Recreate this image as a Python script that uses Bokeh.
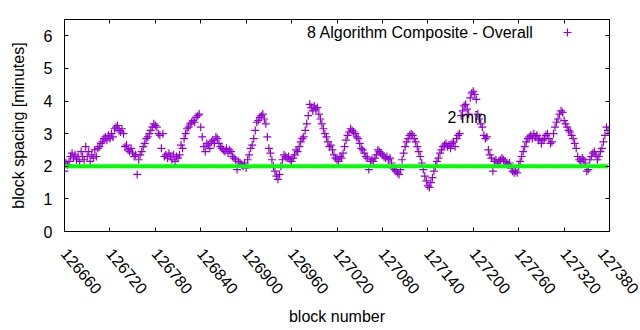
import math
from bokeh.plotting import figure
from bokeh.models import (Range1d, LinearAxis, FixedTicker, Label, Legend,
                          LegendItem, ColumnDataSource, BasicTickFormatter,
                          CustomJSTickFormatter)
from bokeh.embed import file_html
from bokeh.resources import INLINE

# ---------------- data ----------------
blocks = list(range(126660, 127380, 2))
spacing = [
    1.85, 2.10, 2.05, 2.15, 2.30, 2.40, 2.25, 2.35, 2.20, 2.30, 2.15, 2.45, 2.30, 2.20, 2.60, 2.30, 2.45, 2.15, 2.35, 2.25,
    2.50, 2.30, 2.55, 2.60, 2.70, 2.75, 2.85, 2.90, 2.80, 2.95, 2.85, 3.00, 2.90, 3.15, 3.20, 3.25, 3.10, 3.05, 3.15, 3.00,
    2.60, 2.65, 2.50, 2.45, 2.55, 2.40, 2.30, 2.35, 1.75, 2.20, 2.35, 2.45, 2.60, 2.70, 2.85, 2.90, 3.00, 3.10, 3.20, 3.30,
    3.25, 3.20, 3.00, 2.95, 2.55, 3.00, 2.30, 2.35, 2.25, 2.40, 2.30, 2.20, 2.35, 2.15, 2.30, 2.25, 2.35, 2.65, 2.55, 2.85,
    3.00, 3.15, 3.20, 3.30, 3.35, 3.40, 3.35, 3.50, 3.55, 3.60, 3.20, 2.90, 2.60, 2.45, 2.70, 2.65, 2.55, 2.75, 2.80, 2.70,
    2.90, 2.85, 2.70, 2.60, 2.55, 2.50, 2.45, 2.55, 2.40, 2.50, 2.45, 2.30, 2.25, 2.20, 1.90, 2.15, 2.10, 2.05, 2.00, 2.10,
    1.95, 2.20, 2.35, 2.55, 2.65, 2.85, 3.10, 3.35, 3.40, 3.50, 3.55, 3.60, 3.45, 3.30, 2.90, 2.55, 2.40, 2.20, 2.00, 1.85,
    1.70, 1.60, 1.75, 2.00, 2.20, 2.35, 2.30, 2.25, 2.30, 2.20, 2.15, 2.25, 2.35, 2.50, 2.45, 2.60, 2.75, 2.85, 2.90, 3.10,
    3.30, 3.55, 3.90, 3.80, 3.70, 3.85, 3.75, 3.80, 3.60, 3.45, 3.30, 3.15, 3.00, 2.90, 2.75, 2.60, 2.65, 2.50, 2.35, 2.25,
    2.20, 2.15, 2.30, 2.25, 2.40, 2.60, 2.80, 2.95, 3.05, 3.15, 3.10, 3.05, 3.00, 2.90, 2.85, 2.70, 2.55, 2.50, 2.40, 2.30,
    2.25, 1.90, 2.15, 2.20, 2.15, 2.25, 2.35, 2.50, 2.45, 2.40, 2.35, 2.30, 2.25, 2.30, 2.20, 2.25, 2.10, 1.95, 1.90, 1.85,
    1.80, 1.75, 1.90, 2.20, 2.40, 2.60, 2.75, 2.85, 2.95, 3.00, 2.95, 2.85, 2.75, 2.60, 2.45, 2.30, 2.10, 1.90, 1.70, 1.55,
    1.40, 1.35, 1.50, 1.65, 1.85, 2.00, 2.15, 2.25, 2.40, 2.50, 2.60, 2.65, 2.70, 2.60, 2.65, 2.55, 2.70, 2.75, 2.60, 2.85,
    2.95, 3.00, 3.55, 3.70, 3.85, 3.90, 3.75, 3.60, 4.10, 4.25, 4.30, 4.20, 4.05, 3.60, 3.45, 3.30, 3.20, 2.95, 2.85, 2.90,
    2.50, 2.35, 2.25, 1.85, 2.15, 2.20, 2.10, 2.15, 2.20, 2.25, 2.20, 2.15, 2.10, 2.05, 2.10, 1.95, 1.85, 1.80, 1.85, 1.80,
    2.00, 2.15, 2.30, 2.45, 2.60, 2.75, 2.85, 2.90, 2.95, 2.85, 3.00, 2.90, 2.95, 2.80, 2.85, 2.70, 2.80, 2.85, 2.95, 3.00,
    2.85, 2.70, 2.75, 3.00, 3.20, 3.35, 3.45, 3.60, 3.70, 3.65, 3.40, 3.30, 3.20, 3.10, 3.05, 2.95, 2.85, 2.70, 2.55, 2.30,
    2.20, 2.15, 2.25, 2.20, 2.10, 1.85, 1.90, 2.20, 2.30, 2.40, 2.45, 2.35, 2.20, 2.30, 2.45, 2.55, 2.75, 2.95, 3.20, 3.10,
]
x_ticks = [126660, 126720, 126780, 126840, 126900, 126960, 127020,
           127080, 127140, 127200, 127260, 127320, 127380]
y_ticks = [0, 1, 2, 3, 4, 5, 6]
target_minutes = 2
series_name = "8 Algorithm Composite - Overall"
target_label = "2 min"

PURPLE = "#9400D3"
GREEN = "#00FF00"
FONT = "Liberation Sans"
FS = "16px"

p = figure(width=640, height=330, output_backend="svg", toolbar_location=None,
           x_range=Range1d(126660, 127380), y_range=Range1d(0, 6.5),
           min_border_left=64, min_border_right=31, min_border_top=19,
           min_border_bottom=99)
p.grid.visible = False
p.outline_line_color = "black"
p.outline_line_width = 1
p.background_fill_color = "white"
p.border_fill_color = "white"

src = ColumnDataSource(dict(blocks=blocks, spacing=spacing))
r = p.scatter(x="blocks", y="spacing", source=src, marker="cross", size=8,
              line_color=PURPLE, line_width=1.2)

p.line(x=[blocks[0], blocks[-1]], y=[target_minutes, target_minutes],
       line_color=GREEN, line_width=4)

def style_axis(ax, labels=True):
    ax.major_tick_in = 4
    ax.major_tick_out = 0
    ax.minor_tick_line_color = None
    ax.axis_line_color = "black"
    ax.major_tick_line_color = "black"
    ax.major_label_text_font = FONT
    ax.major_label_text_font_size = FS
    ax.major_label_text_color = "black"
    ax.axis_label_text_font = FONT
    ax.axis_label_text_font_size = FS
    ax.axis_label_text_font_style = "normal"
    ax.axis_label_text_color = "black"
    if not labels:
        ax.formatter = CustomJSTickFormatter(code="return ''")
        ax.major_label_standoff = 0

p.xaxis.ticker = FixedTicker(ticks=x_ticks)
p.yaxis.ticker = FixedTicker(ticks=y_ticks)
style_axis(p.xaxis[0])
style_axis(p.yaxis[0])
p.xaxis.formatter = BasicTickFormatter(use_scientific=False)
p.xaxis.axis_label = "block number"
p.yaxis.axis_label = "block spacing [minutes]"
p.xaxis.major_label_orientation = -math.radians(50)
p.xaxis.major_label_standoff = 19
p.yaxis.major_label_standoff = 12
p.yaxis.axis_label_standoff = 14
p.xaxis.axis_label_standoff = 6

top = LinearAxis(ticker=FixedTicker(ticks=x_ticks))
style_axis(top, labels=False)
p.add_layout(top, "above")
right = LinearAxis(ticker=FixedTicker(ticks=y_ticks))
style_axis(right, labels=False)
p.add_layout(right, "right")

p.add_layout(Label(x=127166, y=3.5, text=target_label, text_font=FONT,
                   text_font_size=FS, text_color="black",
                   text_baseline="middle"))
p.add_layout(Label(x=127280, y=6.09, text=series_name, text_font=FONT,
                   text_font_size=FS, text_color="black", text_align="right",
                   text_baseline="middle"))

leg = Legend(items=[LegendItem(label=" ", renderers=[r])], location=(493, 189),
             padding=0, margin=0, spacing=0, glyph_width=20, glyph_height=20,
             label_standoff=0, label_text_font=FONT, label_text_font_size=FS,
             border_line_color=None, background_fill_alpha=0)
p.add_layout(leg)

open("out.html", "w").write(file_html(p, INLINE))
